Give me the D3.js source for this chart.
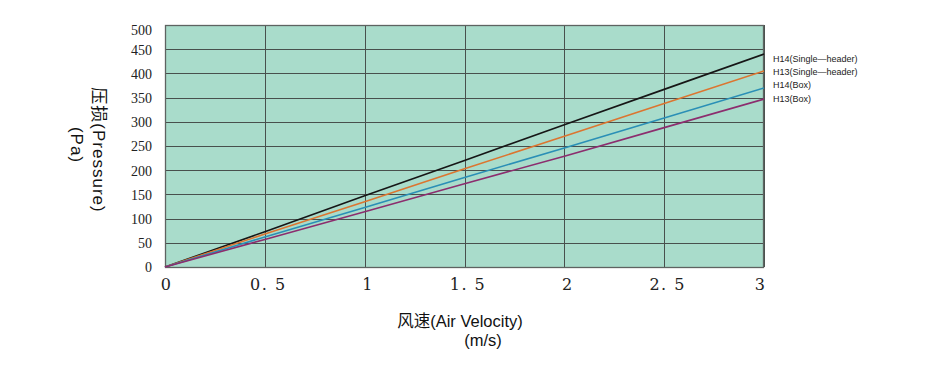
<!DOCTYPE html>
<html><head><meta charset="utf-8">
<script src="https://cdn.jsdelivr.net/npm/d3@7"></script>
<style>
html,body{margin:0;padding:0;background:#fff;}
svg{display:block;}
</style></head>
<body>
<svg id="chart" width="930" height="366"></svg>
<script>
// ---- data ----
const velocity = [0, 0.5, 1, 1.5, 2, 2.5, 3];
const h14Single = [0, 73, 147, 220, 294, 367, 440];
const h13Single = [0, 68, 135, 203, 270, 338, 405];
const h14Box = [0, 62, 123, 185, 246, 308, 370];
const h13Box = [0, 57, 114, 172, 229, 288, 347];
const seriesNames = ["H14(Single\u2014header)", "H13(Single\u2014header)", "H14(Box)", "H13(Box)"];
const seriesColors = ["#161616", "#dc7530", "#2a8fb6", "#8c2d6e"];
const xTickValues = [0, 0.5, 1, 1.5, 2, 2.5, 3];
const xTickLabels = ["0", "0. 5", "1", "1. 5", "2", "2. 5", "3"];
const yTickValues = [0, 50, 100, 150, 200, 250, 300, 350, 400, 450, 500];

const series = [h14Single, h13Single, h14Box, h13Box];

const svg = d3.select("#chart");
const pL = 165, pR = 764, pT = 25, pB = 267;
const x = d3.scaleLinear().domain([0, 3]).range([pL, pR]);
const y = d3.scaleLinear().domain([0, 500]).range([pB, pT]);

// background
svg.append("rect").attr("x", pL).attr("y", pT)
  .attr("width", pR - pL).attr("height", pB - pT)
  .attr("fill", "#a9dccb");

// grid
const g = svg.append("g");
g.selectAll("line.h").data(yTickValues).enter().append("line")
  .attr("x1", pL).attr("x2", pR)
  .attr("y1", d => Math.round(y(d)) + 0.5).attr("y2", d => Math.round(y(d)) + 0.5)
  .attr("stroke", "#48504d").attr("stroke-width", 1);
g.selectAll("line.v").data(xTickValues).enter().append("line")
  .attr("y1", pT).attr("y2", pB)
  .attr("x1", d => Math.round(x(d)) + 0.5).attr("x2", d => Math.round(x(d)) + 0.5)
  .attr("stroke", "#48504d").attr("stroke-width", 1);
svg.append("rect").attr("x", pL + 0.5).attr("y", pT + 0.5)
  .attr("width", pR - pL - 1).attr("height", pB - pT)
  .attr("fill", "none").attr("stroke", "#5e6361").attr("stroke-width", 1.3);

// lines
const line = d3.line().x((d, i) => x(velocity[i])).y(d => y(d));
svg.selectAll("path.s").data(series).enter().append("path")
  .attr("d", d => line(d))
  .attr("fill", "none")
  .attr("stroke", (d, i) => seriesColors[i])
  .attr("stroke-width", 1.6);

// y axis labels
const yAxis = d3.axisLeft(y).tickValues(yTickValues).tickSize(0).tickPadding(13);
const ya = svg.append("g").attr("transform", `translate(${pL},0)`).call(yAxis);
ya.select(".domain").remove();
ya.selectAll("text").attr("font-family", "'Liberation Serif', serif")
  .attr("font-size", 14).attr("fill", "#222")
  .attr("dy", (d) => (d === 500 ? "0.65em" : "0.35em"));

// x axis labels
const xAxis = d3.axisBottom(x).tickValues(xTickValues).tickSize(0).tickPadding(12)
  .tickFormat((d, i) => xTickLabels[i]);
const xa = svg.append("g").attr("transform", `translate(0,${pB})`).call(xAxis);
xa.select(".domain").remove();
xa.selectAll("text").attr("font-family", "'DejaVu Serif', serif")
  .attr("font-size", 16).attr("fill", "#222")
  .attr("style", "letter-spacing:1.5px")
  .attr("text-anchor", (d, i) => i === xTickValues.length - 1 ? "end" : "middle")
  .attr("dx", (d, i) => i === xTickValues.length - 1 ? 2 : (i === 0 ? 1 : 3));

// legend
svg.selectAll("text.leg").data(seriesNames).enter().append("text")
  .attr("x", 773).attr("y", (d, i) => 62 + i * 13.2)
  .attr("font-family", "'Liberation Sans', Arial, sans-serif")
  .attr("font-size", 9).attr("fill", "#222")
  .text(d => d);

// axis titles
const ft = "'Liberation Sans', 'Noto Sans CJK SC', sans-serif";
svg.append("text").attr("transform", "translate(93,150) rotate(90)")
  .attr("text-anchor", "middle").attr("font-family", ft).attr("font-size", 17)
  .attr("fill", "#111").attr("style", "letter-spacing:1px").text("压损(Pressure)");
svg.append("text").attr("transform", "translate(71,145) rotate(90)")
  .attr("text-anchor", "middle").attr("font-family", ft).attr("font-size", 17)
  .attr("fill", "#111").attr("style", "letter-spacing:1px").text("(Pa)");
svg.append("text").attr("x", 460).attr("y", 327)
  .attr("text-anchor", "middle").attr("font-family", ft).attr("font-size", 16.5)
  .attr("fill", "#111").text("风速(Air Velocity)");
svg.append("text").attr("x", 483).attr("y", 346)
  .attr("text-anchor", "middle").attr("font-family", ft).attr("font-size", 16.5)
  .attr("fill", "#111").text("(m/s)");
</script>
</body></html>
